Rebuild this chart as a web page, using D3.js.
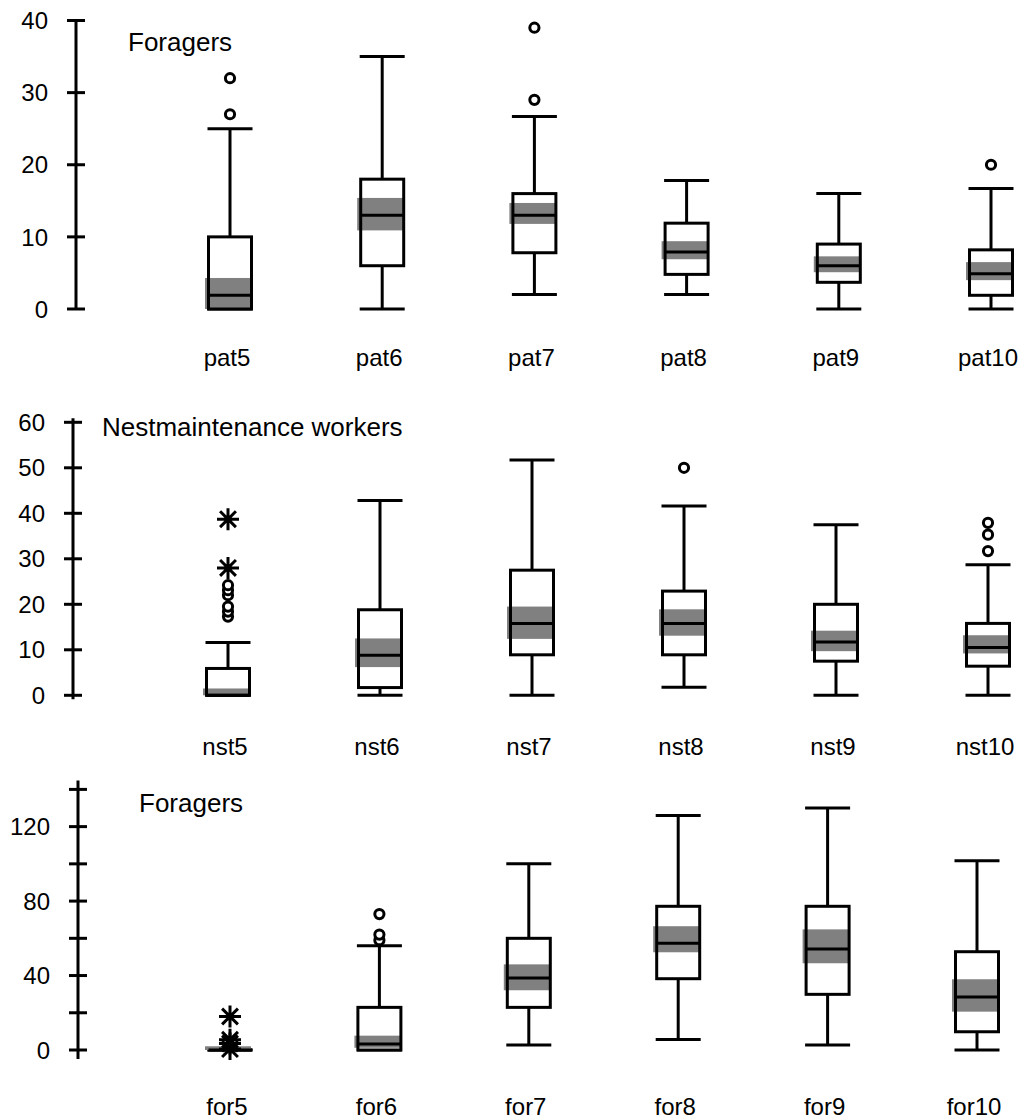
<!DOCTYPE html>
<html>
<head>
<meta charset="utf-8">
<script src="https://cdn.jsdelivr.net/npm/d3@7"></script>
<style>
  body { margin: 0; background: #fff; }
  text { font-family: "Liberation Sans", Arial, Helvetica, sans-serif; font-size: 24px; fill: #000; }
  text.title { font-size: 26px; }
</style>
</head>
<body>
<svg id="chart" width="1018" height="1119"></svg>
<script>
// ---- panel 1: Foragers (pat) ----
const patCats = ["pat5", "pat6", "pat7", "pat8", "pat9", "pat10"];
const patLow = [0, 0, 2, 2, 0, 0];
const patQ1 = [0, 6, 7.8, 4.8, 3.7, 1.9];
const patMed = [1.9, 13, 13, 7.9, 6, 4.9];
const patQ3 = [10, 18, 16, 11.9, 9, 8.2];
const patHigh = [25, 35, 26.7, 17.8, 16, 16.7];
const patNotchLo = [0, 10.9, 11.8, 6.9, 5.1, 4.0];
const patNotchHi = [4.3, 15.4, 14.7, 9.4, 7.3, 6.5];
const patOut = [[27, 32], [], [29, 39], [], [], [20]];
const patExt = [[], [], [], [], [], []];
const patTicks = [0, 10, 20, 30, 40];
const patTickLabels = [0, 10, 20, 30, 40];

// ---- panel 2: Nestmaintenance workers (nst) ----
const nstCats = ["nst5", "nst6", "nst7", "nst8", "nst9", "nst10"];
const nstLow = [0, 0, 0, 1.75, 0, 0];
const nstQ1 = [0, 1.7, 8.9, 8.9, 7.5, 6.4];
const nstMed = [0, 8.8, 15.8, 15.8, 11.7, 10.5];
const nstQ3 = [5.9, 18.8, 27.5, 22.9, 20, 15.8];
const nstHigh = [11.6, 42.8, 51.7, 41.6, 37.5, 28.7];
const nstNotchLo = [0, 6.2, 12.4, 13.1, 9.7, 9.2];
const nstNotchHi = [1.5, 12.5, 19.5, 18.9, 14.2, 13.2];
const nstOut = [[17.3, 18.4, 19.5, 22, 23.1, 24.2], [], [], [50], [], [31.7, 35.3, 37.9]];
const nstExt = [[28, 38.7], [], [], [], [], []];
const nstTicks = [0, 10, 20, 30, 40, 50, 60];
const nstTickLabels = [0, 10, 20, 30, 40, 50, 60];

// ---- panel 3: Foragers (for) ----
const forCats = ["for5", "for6", "for7", "for8", "for9", "for10"];
const forLow = [0, 0, 2.7, 5.7, 2.7, 0];
const forQ1 = [0, 0, 22.9, 38.3, 29.9, 9.8];
const forMed = [0, 3.2, 38.7, 57.3, 54.3, 28.5];
const forQ3 = [0, 22.9, 60, 77.2, 77.2, 52.8];
const forHigh = [0, 56, 100, 126, 130, 101.7];
const forNotchLo = [0, 1.2, 32.1, 52.5, 46.6, 20.6];
const forNotchHi = [2, 7.7, 46, 66.5, 64.8, 38];
const forOut = [[], [59, 62, 73], [], [], [], []];
const forExt = [[0.5, 3.5, 5.5, 18], [], [], [], [], []];
const forTicks = [0, 20, 40, 60, 80, 100, 120, 140];
const forTickLabels = [0, 40, 80, 120];

const svg = d3.select("#chart");

function drawPanel(p) {
  const g = svg.append("g");
  const y = d3.scaleLinear().domain(p.domain).range(p.yRange);
  const x = d3.scalePoint().domain(p.cats).range(p.xRange);

  // axis
  g.append("line")
    .attr("x1", p.axisX).attr("x2", p.axisX)
    .attr("y1", y(p.domain[1]) - p.axisExt).attr("y2", y(p.domain[0]) + p.axisExt)
    .attr("stroke", "#000").attr("stroke-width", 3);
  g.selectAll(".tick").data(p.ticks).join("line")
    .attr("x1", p.axisX - 9).attr("x2", p.axisX + 9)
    .attr("y1", d => y(d)).attr("y2", d => y(d))
    .attr("stroke", "#000").attr("stroke-width", 3);
  g.selectAll(".tl").data(p.tickLabels).join("text")
    .attr("x", p.axisX - 28).attr("y", d => y(d))
    .attr("dy", "0.36em").attr("text-anchor", "end")
    .text(d => d);

  g.append("text").attr("class", "title")
    .attr("x", p.titleX).attr("y", p.titleY).text(p.title);

  const rows = p.cats.map((c, i) => ({
    c, lo: p.low[i], q1: p.q1[i], med: p.med[i], q3: p.q3[i], hi: p.high[i],
    nlo: p.nlo[i], nhi: p.nhi[i], out: p.out[i], ext: p.ext[i]
  }));

  const bw = 43, cw = 45;
  const box = g.selectAll(".box").data(rows).join("g")
    .attr("transform", d => `translate(${x(d.c)},0)`);

  // whiskers
  box.append("line").attr("x1", 0).attr("x2", 0)
    .attr("y1", d => y(d.q3)).attr("y2", d => y(d.hi))
    .attr("stroke", "#000").attr("stroke-width", 3);
  box.append("line").attr("x1", 0).attr("x2", 0)
    .attr("y1", d => y(d.q1)).attr("y2", d => y(d.lo))
    .attr("stroke", "#000").attr("stroke-width", 3);
  box.append("line").attr("x1", -cw / 2).attr("x2", cw / 2)
    .attr("y1", d => y(d.hi)).attr("y2", d => y(d.hi))
    .attr("stroke", "#000").attr("stroke-width", 3);
  box.append("line").attr("x1", -cw / 2).attr("x2", cw / 2)
    .attr("y1", d => y(d.lo)).attr("y2", d => y(d.lo))
    .attr("stroke", "#000").attr("stroke-width", 3);

  // box fill
  box.append("rect").attr("x", -bw / 2).attr("width", bw)
    .attr("y", d => y(d.q3)).attr("height", d => y(d.q1) - y(d.q3))
    .attr("fill", "#fff");
  // grey band around the median
  box.append("rect").attr("x", -25).attr("width", 46)
    .attr("y", d => y(d.nhi)).attr("height", d => y(d.nlo) - y(d.nhi))
    .attr("fill", "#808080");
  // box outline
  box.append("rect").attr("x", -bw / 2).attr("width", bw)
    .attr("y", d => y(d.q3)).attr("height", d => y(d.q1) - y(d.q3))
    .attr("fill", "none").attr("stroke", "#000").attr("stroke-width", 3);
  // median
  box.append("line").attr("x1", -bw / 2).attr("x2", bw / 2)
    .attr("y1", d => y(d.med)).attr("y2", d => y(d.med))
    .attr("stroke", "#000").attr("stroke-width", 3);

  // outliers
  box.selectAll(".o").data(d => d.out).join("circle")
    .attr("cx", 0).attr("cy", v => y(v)).attr("r", 4.6)
    .attr("fill", "#fff").attr("stroke", "#000").attr("stroke-width", 3);

  // extremes (asterisks)
  const s = 11, k = s * 0.72;
  box.selectAll(".e").data(d => d.ext).join("path")
    .attr("transform", v => `translate(0,${y(v)})`)
    .attr("d", `M${-s},0L${s},0M0,${-s}L0,${s}M${-k},${-k}L${k},${k}M${-k},${k}L${k},${-k}`)
    .attr("stroke", "#000").attr("stroke-width", 3).attr("fill", "none");

  // category labels
  g.selectAll(".cl").data(p.cats).join("text")
    .attr("x", d => x(d) - 3).attr("y", p.labelY)
    .attr("text-anchor", "middle").text(d => d);
}

drawPanel({
  cats: patCats, low: patLow, q1: patQ1, med: patMed, q3: patQ3, high: patHigh,
  nlo: patNotchLo, nhi: patNotchHi, out: patOut, ext: patExt,
  ticks: patTicks, tickLabels: patTickLabels, title: "Foragers",
  domain: [0, 40], yRange: [309, 20.5], xRange: [230, 991],
  axisX: 76, axisExt: 0, titleX: 128, titleY: 51, labelY: 366
});

drawPanel({
  cats: nstCats, low: nstLow, q1: nstQ1, med: nstMed, q3: nstQ3, high: nstHigh,
  nlo: nstNotchLo, nhi: nstNotchHi, out: nstOut, ext: nstExt,
  ticks: nstTicks, tickLabels: nstTickLabels, title: "Nestmaintenance workers",
  domain: [0, 60], yRange: [695.3, 422.3], xRange: [228, 988],
  axisX: 73, axisExt: 4, titleX: 102, titleY: 436, labelY: 755
});

drawPanel({
  cats: forCats, low: forLow, q1: forQ1, med: forMed, q3: forQ3, high: forHigh,
  nlo: forNotchLo, nhi: forNotchHi, out: forOut, ext: forExt,
  ticks: forTicks, tickLabels: forTickLabels, title: "Foragers",
  domain: [0, 140], yRange: [1050, 789.4], xRange: [230, 977],
  axisX: 78, axisExt: 9, titleX: 139, titleY: 812, labelY: 1115
});
</script>
</body>
</html>
